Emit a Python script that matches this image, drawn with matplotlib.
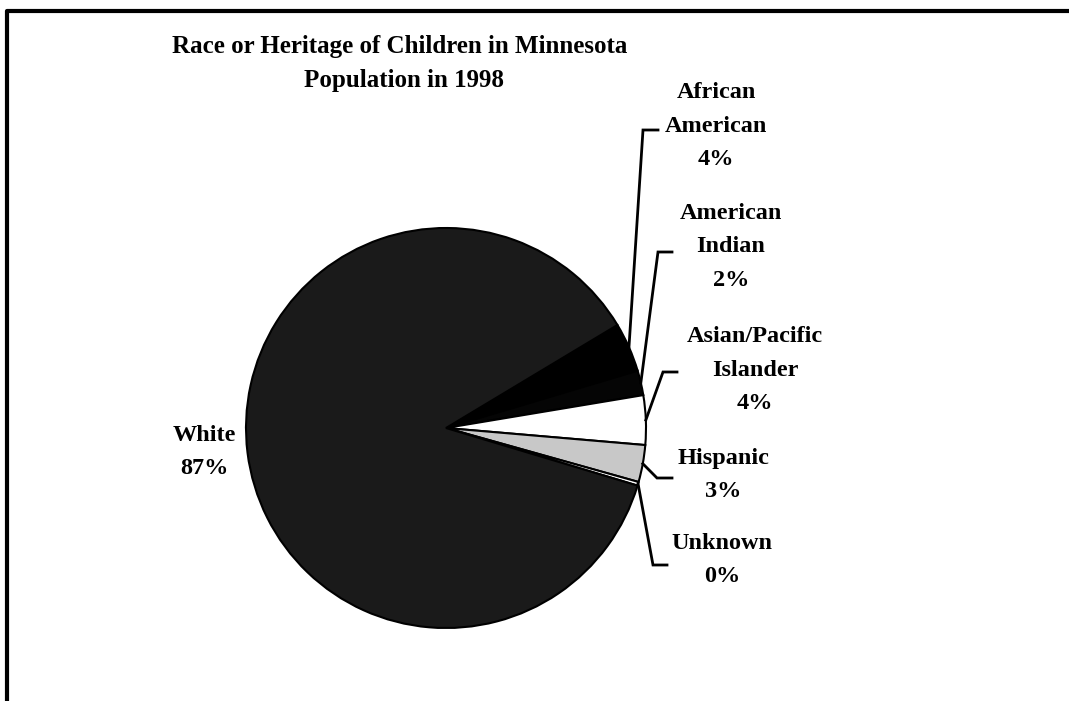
import numpy as np
import matplotlib
matplotlib.use('Agg')
import matplotlib.pyplot as plt

# Data (clockwise from the top of the small slices)
categories = ["African\nAmerican", "American\nIndian", "Asian/Pacific\nIslander",
              "Hispanic", "Unknown", "White"]
shares = [4, 2, 4, 3, 0.3, 87]
pct_labels = ["4%", "2%", "4%", "3%", "0%", "87%"]
colors = ["#000000", "#050505", "#ffffff", "#c8c8c8", "#ffffff", "#1a1a1a"]

W, H = 1069, 701
fig = plt.figure(figsize=(W / 100, H / 100), dpi=100)
ax = fig.add_axes([0, 0, 1, 1])

# pie in pixel-like coordinates (y measured from bottom)
cx, cy, r = 446, H - 428, 200
wedges, _ = ax.pie(shares, colors=colors, startangle=31, counterclock=False,
                   center=(cx, cy), radius=r,
                   wedgeprops=dict(edgecolor="black", linewidth=1.5))
ax.set_xlim(0, W)
ax.set_ylim(0, H)
ax.set_aspect("equal")
ax.axis("off")

font = dict(family=["Liberation Serif", "DejaVu Serif"], weight="bold")

# title
ax.text(400, H - 46, "Race or Heritage of Children in Minnesota",
        ha="center", va="center", fontsize=18, **font)
ax.text(404, H - 81, "Population in 1998", ha="center", va="center",
        fontsize=18, **font)

# label block centre and leader elbow/stub (pixel layout)
label_pos = [(716, 126), (731, 247), (755, 370), (723, 475), (722, 560), (204, 452)]
elbows = [((643, 130), (658, 130)), ((658, 252), (672, 252)),
          ((663, 372), (677, 372)), ((657, 478), (672, 478)),
          ((653, 565), (667, 565)), None]

for w, cat, pct, (lx, ly), elb in zip(wedges, categories, pct_labels, label_pos, elbows):
    ax.text(lx, H - ly, cat + "\n" + pct, ha="center", va="center",
            fontsize=17.5, linespacing=1.8, **font)
    if elb is None:
        continue
    mid = np.deg2rad((w.theta1 + w.theta2) / 2)
    ex, ey = cx + r * np.cos(mid), cy + r * np.sin(mid)
    (bx, by), (sx, sy) = elb
    ax.plot([ex, bx, sx], [ey, H - by, H - sy], color="black", lw=2,
            solid_joinstyle="miter")

# chart border (only top and left visible in the crop)
ax.plot([7, 7, W], [0, H - 11, H - 11], color="black", lw=3)

fig.savefig("out.png", dpi=100)
